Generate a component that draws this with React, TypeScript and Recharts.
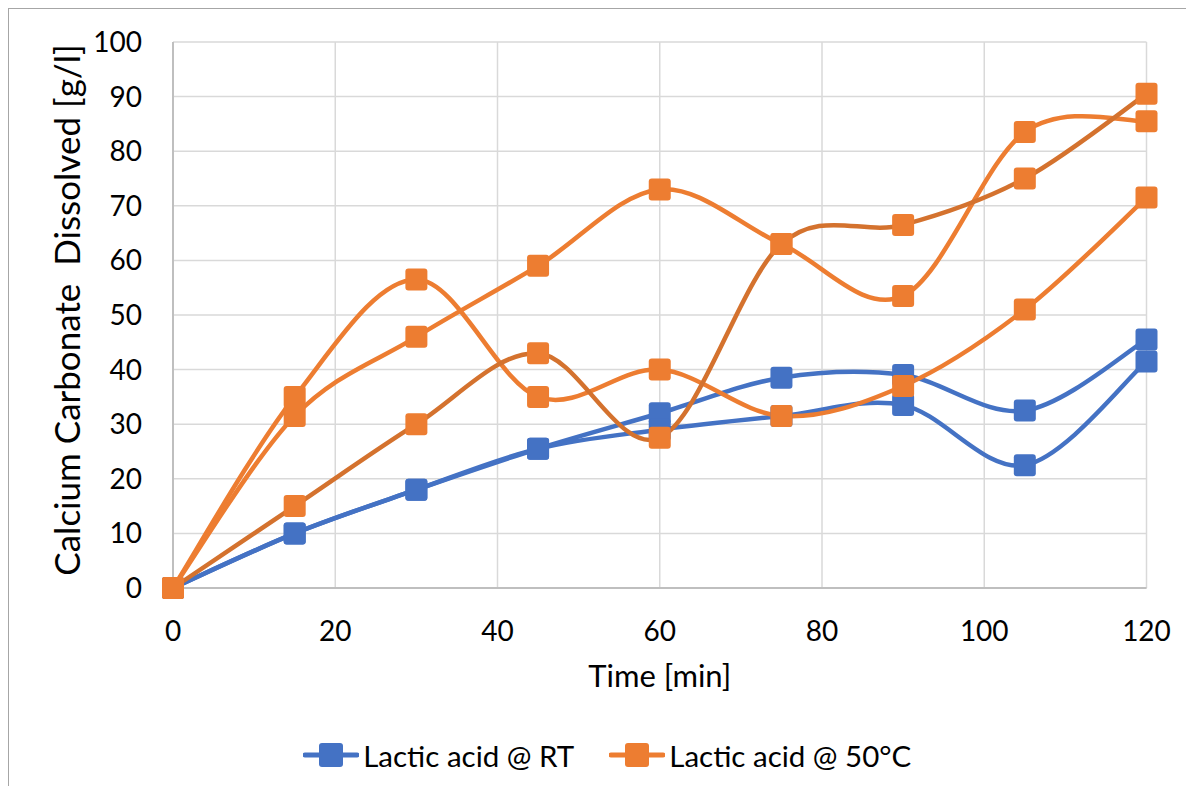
import React from 'react';
import { LineChart, Line, XAxis, YAxis, CartesianGrid, Legend, Label } from 'recharts';

// sampling times [min]
const TIME = [0, 15, 30, 45, 60, 75, 90, 105, 120];

// dissolved CaCO3 [g/l], lactic acid at room temperature (two runs)
const RT_RUN_1 = [0, 10, 18, 25.5, 32, 38.5, 39, 32.5, 45.5];
const RT_RUN_2 = [0, 10, 18, 25.5, 29, 31.5, 33.5, 22.5, 41.5];

// dissolved CaCO3 [g/l], lactic acid at 50 °C (three runs)
const HOT_RUN_1 = [0, 35, 56.5, 35, 40, 31.5, 37, 51, 71.5];
const HOT_RUN_2 = [0, 31.5, 46, 59, 73, 63, 53.5, 83.5, 85.5];
const HOT_RUN_3 = [0, 15, 30, 43, 27.5, 63, 66.5, 75, 90.5];

const X_TICKS = [0, 20, 40, 60, 80, 100, 120];
const Y_TICKS = [0, 10, 20, 30, 40, 50, 60, 70, 80, 90, 100];

const LEGEND_ITEMS = [
  { name: 'Lactic acid @ RT', color: '#4472C4' },
  { name: 'Lactic acid @ 50°C', color: '#ED7D31' },
];

const BLUE = '#4472C4';
const ORANGE = '#ED7D31';
const DARK_ORANGE = '#D4722E';
const GRID = '#D9D9D9';
const AXIS = '#BFBFBF';
const FONT = 'Lato, "Open Sans", sans-serif';
const TICK_SIZE = 28;
const MARKER = 22;

const data = TIME.map((t, i) => ({
  time: t,
  rt1: RT_RUN_1[i],
  rt2: RT_RUN_2[i],
  hot1: HOT_RUN_1[i],
  hot2: HOT_RUN_2[i],
  hot3: HOT_RUN_3[i],
}));

// Smoothed line like a spreadsheet "smooth line": cubic Bezier through every
// point, control points at 1/6 of the neighbour chord (Catmull-Rom).
const smoothCurve = (context: any) => {
  let pts: number[][] = [];
  return {
    areaStart() {},
    areaEnd() {},
    lineStart() {
      pts = [];
    },
    lineEnd() {
      const n = pts.length;
      if (!n) return;
      context.moveTo(pts[0][0], pts[0][1]);
      for (let i = 0; i < n - 1; i++) {
        const p0 = pts[Math.max(i - 1, 0)];
        const p1 = pts[i];
        const p2 = pts[i + 1];
        const p3 = pts[Math.min(i + 2, n - 1)];
        context.bezierCurveTo(
          p1[0] + (p2[0] - p0[0]) / 6,
          p1[1] + (p2[1] - p0[1]) / 6,
          p2[0] - (p3[0] - p1[0]) / 6,
          p2[1] - (p3[1] - p1[1]) / 6,
          p2[0],
          p2[1]
        );
      }
    },
    point(x: number, y: number) {
      pts.push([+x, +y]);
    },
  };
};

const squareDot = (color: string, id: string) => (props: any) => {
  const { cx, cy, index } = props;
  if (cx == null || cy == null) return <g key={`${id}-${index}`} />;
  return (
    <rect
      key={`${id}-${index}`}
      x={cx - MARKER / 2}
      y={cy - MARKER / 2}
      width={MARKER}
      height={MARKER}
      rx={3}
      fill={color}
    />
  );
};

const LegendContent = () => (
  <div
    style={{
      display: 'flex',
      justifyContent: 'center',
      alignItems: 'center',
      height: 40,
      gap: 35,
      fontFamily: FONT,
      fontSize: 29.5,
      color: '#000',
      paddingLeft: 59,
    }}
  >
    {LEGEND_ITEMS.map((item) => (
      <div key={item.name} style={{ display: 'flex', alignItems: 'center' }}>
        <svg width={56} height={26} style={{ marginRight: 4 }}>
          <line x1={2} y1={13} x2={54} y2={13} stroke={item.color} strokeWidth={5} strokeLinecap="round" />
          <rect x={16} y={1} width={24} height={24} rx={3} fill={item.color} />
        </svg>
        <span>{item.name}</span>
      </div>
    ))}
  </div>
);

const tickStyle = { fontFamily: FONT, fontSize: TICK_SIZE, fill: '#000' };

export default function App() {
  return (
    <div
      style={{
        width: 1185,
        height: 777,
        borderTop: '1px solid #A6A6A6',
        borderLeft: '1px solid #A6A6A6',
        background: '#fff',
      }}
    >
      <LineChart
        width={1185}
        height={777}
        data={data}
        margin={{ top: 33, right: 47.5, bottom: 11, left: 0 }}
      >
        <CartesianGrid stroke={GRID} strokeWidth={1.5} />
        <XAxis
          dataKey="time"
          type="number"
          domain={[0, 120]}
          ticks={X_TICKS}
          height={147}
          tickSize={0}
          tickMargin={33}
          tickLine={false}
          axisLine={{ stroke: AXIS, strokeWidth: 2 }}
          tick={tickStyle}
          interval={0}
        >
          <Label
            content={({ viewBox }: any) => (
              <text
                x={viewBox.x + viewBox.width / 2}
                y={viewBox.y + 99}
                textAnchor="middle"
                fontFamily={FONT}
                fontSize={31}
                fill="#000"
              >
                Time [min]
              </text>
            )}
          />
        </XAxis>
        <YAxis
          type="number"
          domain={[0, 100]}
          ticks={Y_TICKS}
          width={164}
          tickSize={0}
          tickMargin={31}
          tickLine={false}
          axisLine={{ stroke: AXIS, strokeWidth: 2 }}
          tick={tickStyle}
          interval={0}
        >
          <Label
            content={({ viewBox }: any) => {
              const x = viewBox.x + 71;
              const y = viewBox.y + viewBox.height / 2 - 5;
              return (
                <text
                  x={x}
                  y={y}
                  transform={`rotate(-90, ${x}, ${y})`}
                  textAnchor="middle"
                  fontFamily={FONT}
                  fontSize={35}
                  fill="#000"
                  style={{ whiteSpace: 'pre' }}
                >
                  {'Calcium Carbonate  Dissolved [g/l]'}
                </text>
              );
            }}
          />
        </YAxis>
        <Legend verticalAlign="bottom" align="center" height={40} content={LegendContent} />
        <Line dataKey="rt1" type={smoothCurve as any} stroke={BLUE} strokeWidth={4.5}
          dot={squareDot(BLUE, 'rt1')} activeDot={false} isAnimationActive={false} />
        <Line dataKey="rt2" type={smoothCurve as any} stroke={BLUE} strokeWidth={4.5}
          dot={squareDot(BLUE, 'rt2')} activeDot={false} isAnimationActive={false} />
        <Line dataKey="hot1" type={smoothCurve as any} stroke={ORANGE} strokeWidth={4.5}
          dot={squareDot(ORANGE, 'hot1')} activeDot={false} isAnimationActive={false} />
        <Line dataKey="hot2" type={smoothCurve as any} stroke={ORANGE} strokeWidth={4.5}
          dot={squareDot(ORANGE, 'hot2')} activeDot={false} isAnimationActive={false} />
        <Line dataKey="hot3" type={smoothCurve as any} stroke={DARK_ORANGE} strokeWidth={4.5}
          dot={squareDot(ORANGE, 'hot3')} activeDot={false} isAnimationActive={false} />
      </LineChart>
    </div>
  );
}
